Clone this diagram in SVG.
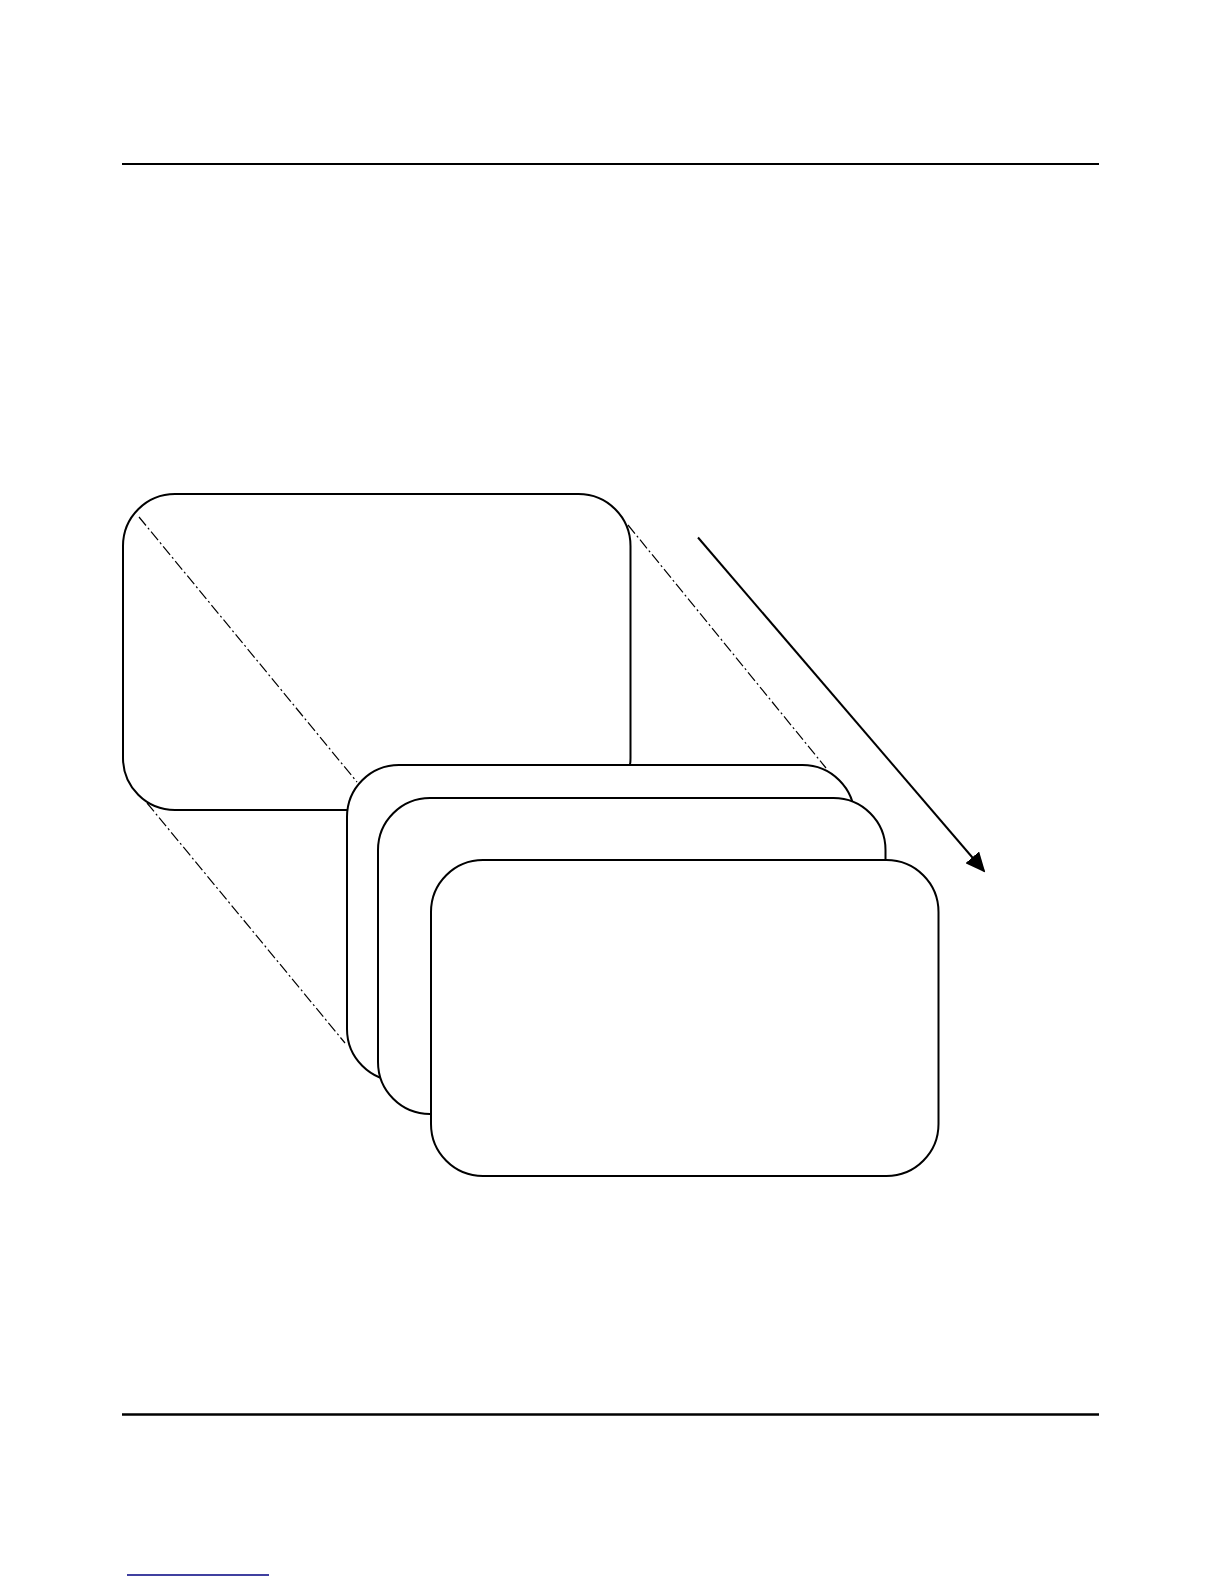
<svg xmlns="http://www.w3.org/2000/svg" width="1224" height="1584" viewBox="0 0 1224 1584">
  <style>
    .card { fill: #ffffff; stroke: #000000; stroke-width: 2; }
    .rule { stroke: #000000; stroke-width: 2; }
    .proj { stroke: #000000; stroke-width: 1.2; fill: none; stroke-dasharray: 11 3 2 3; }
    .flow { stroke: #000000; stroke-width: 2; fill: none; }
  </style>
  <defs>
    <marker id="arrow" markerWidth="20" markerHeight="18" refX="18" refY="9" orient="auto" markerUnits="userSpaceOnUse" viewBox="0 0 20 18">
      <path d="M0,0 L20,9 L0,18 Z" fill="#000000"/>
    </marker>
  </defs>
  <rect width="1224" height="1584" fill="#ffffff"/>
  <line class="rule" x1="122" y1="164" x2="1099" y2="164"/>
  <line class="rule" x1="122" y1="1414.5" x2="1099" y2="1414.5" style="stroke-width:2.4"/>
  <line x1="127" y1="1575" x2="269" y2="1575" stroke="#000080" stroke-width="1.6"/>

  <g id="frame-main">
    <rect class="card" x="123" y="494" width="507.5" height="316" rx="52" ry="52"/>
  </g>

  <g id="connectors">
    <line class="proj" x1="139" y1="517" x2="357" y2="782"/>
    <line class="proj" x1="628" y1="525" x2="826" y2="768"/>
    <line class="proj" x1="147" y1="803" x2="345" y2="1043"/>
    <line class="flow" x1="698" y1="537.5" x2="984" y2="871" marker-end="url(#arrow)"/>
  </g>

  <g id="frame-1">
    <rect class="card" x="347" y="765" width="507.5" height="316" rx="52" ry="52"/>
  </g>
  <g id="frame-2">
    <rect class="card" x="378" y="798" width="507.5" height="316" rx="52" ry="52"/>
  </g>
  <g id="frame-3">
    <rect class="card" x="431" y="860" width="507.5" height="316" rx="52" ry="52"/>
  </g>
</svg>
